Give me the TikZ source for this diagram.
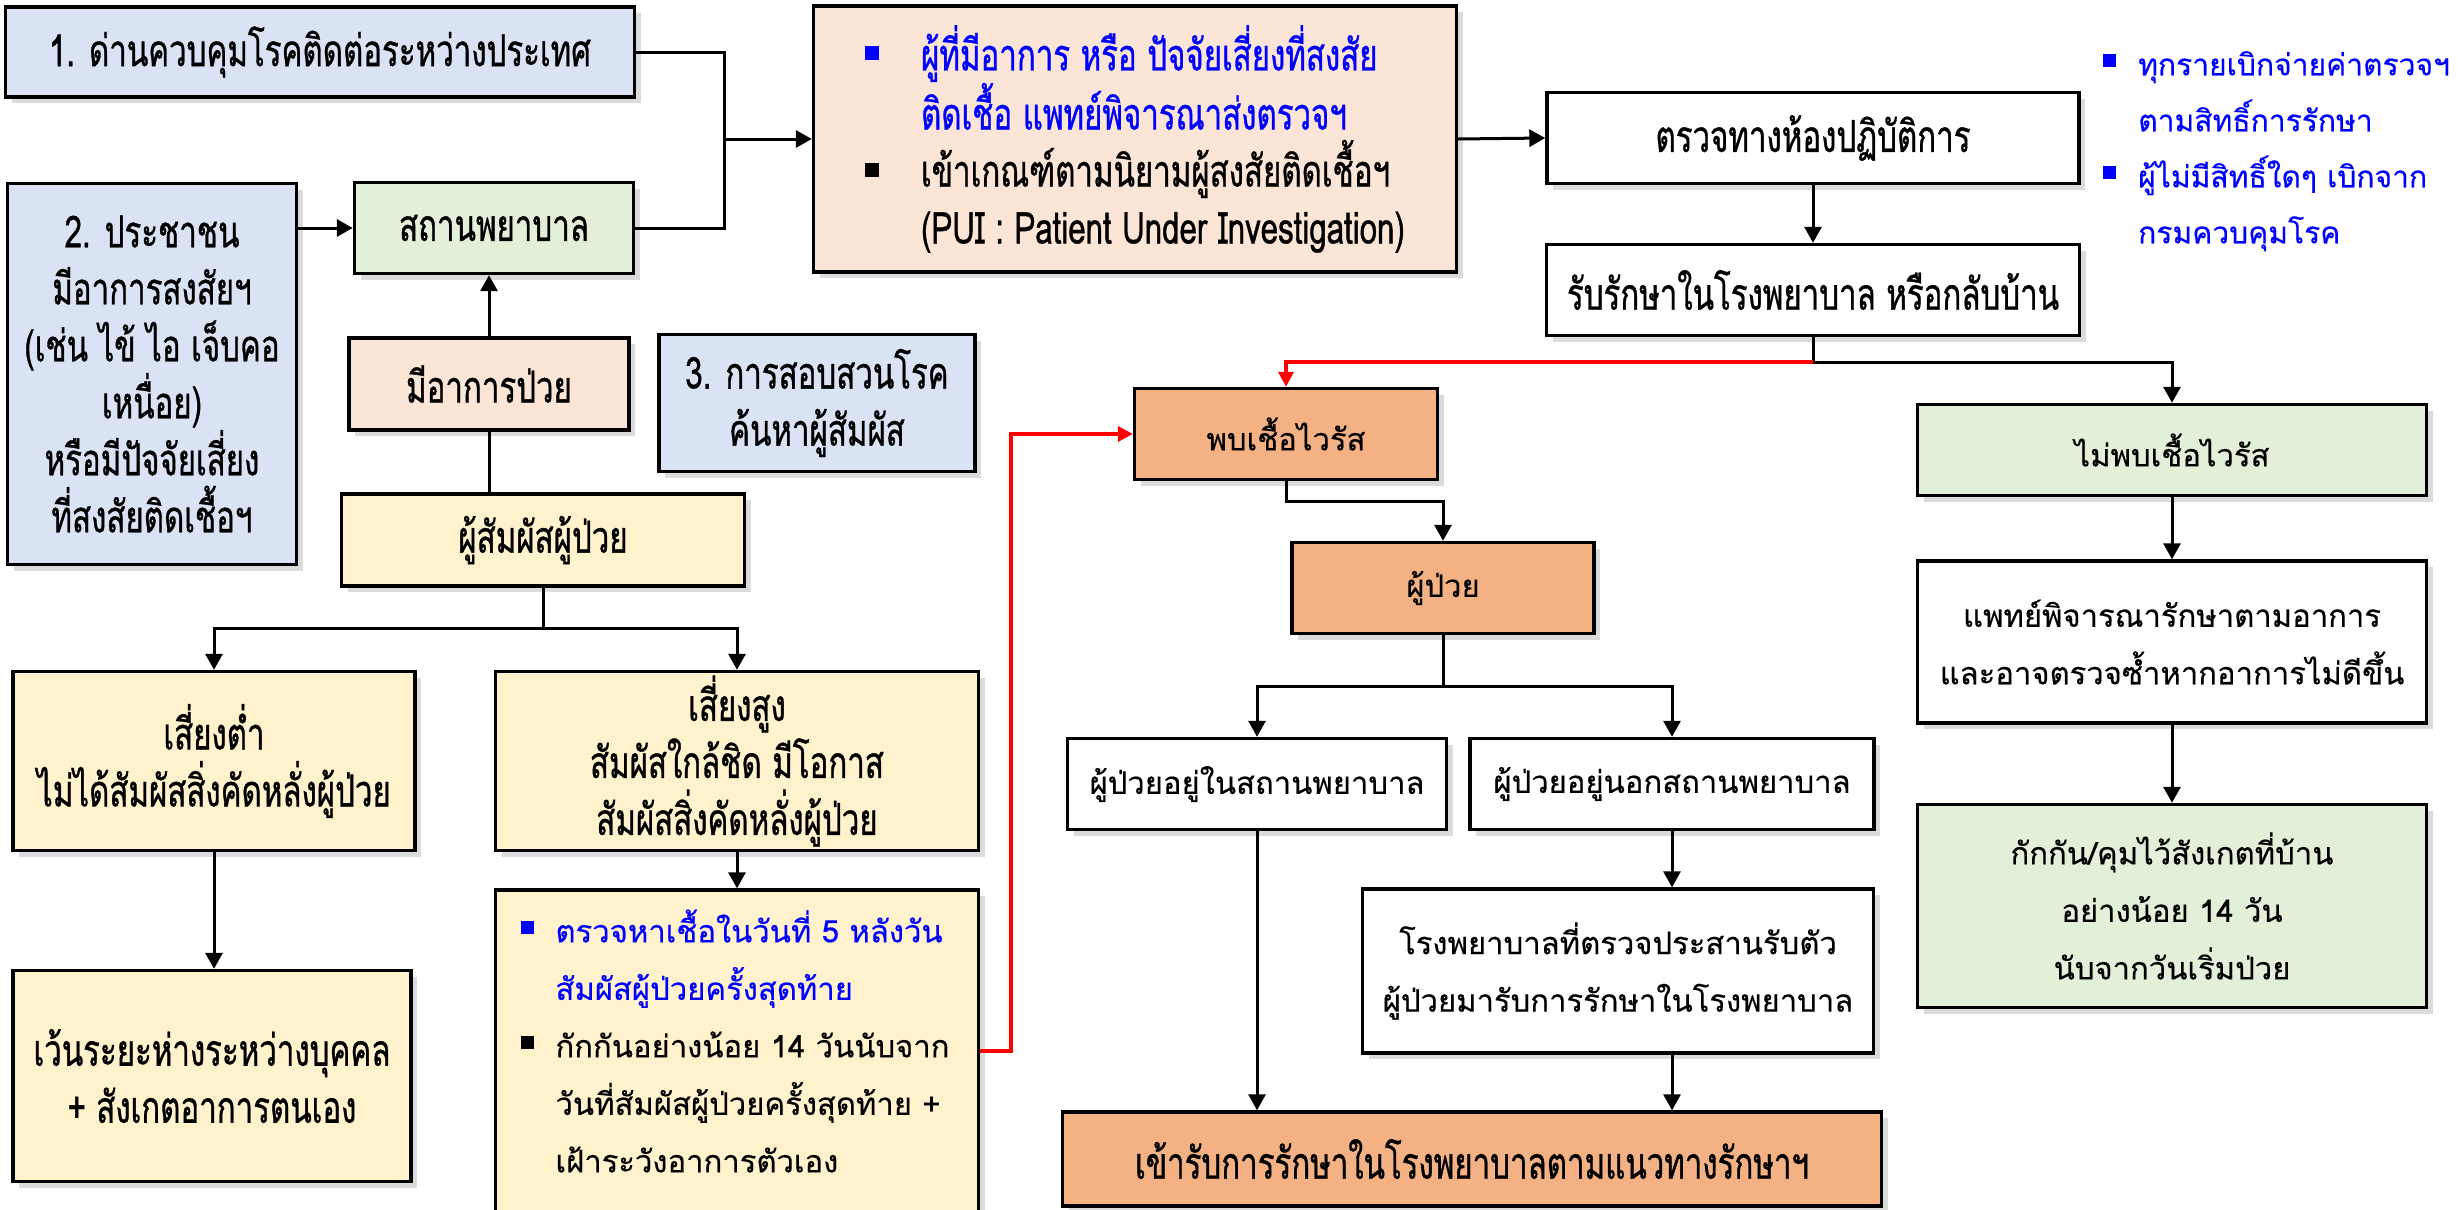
\documentclass[tikz,border=0pt]{standalone}
\usepackage{fontspec}
\newfontfamily\thw[Script=Thai,FakeBold=0.4]{Loma}
\newfontfamily\thn[Script=Thai,FakeStretch=0.71,FakeBold=0.8]{Loma}
\usetikzlibrary{arrows.meta,shadows,calc}
\definecolor{cblue}{HTML}{DAE3F3}
\definecolor{cgreen}{HTML}{E2F0D9}
\definecolor{cpeach}{HTML}{FBE5D6}
\definecolor{cyellow}{HTML}{FFF2CC}
\definecolor{corange}{HTML}{F4B183}
\definecolor{tblue}{HTML}{0000FF}
\definecolor{cred}{HTML}{FF0000}
% bullets: wide gap (56) and narrow gap (35)
\newcommand{\bwb}{\makebox[56pt][l]{\textcolor{tblue}{\rule[10pt]{14pt}{14pt}}}}
\newcommand{\bwk}{\makebox[56pt][l]{\textcolor{black}{\rule[10pt]{14pt}{14pt}}}}
\newcommand{\bwsp}{\hspace*{56pt}}
\newcommand{\bnb}{\makebox[35pt][l]{\textcolor{tblue}{\rule[8pt]{13pt}{13pt}}}}
\newcommand{\bnk}{\makebox[35pt][l]{\textcolor{black}{\rule[8pt]{13pt}{13pt}}}}
\newcommand{\bnsp}{\hspace*{35pt}}
\begin{document}
\begin{tikzpicture}[x=1pt,y=-1pt,
  box/.style={draw=black, line width=3.4pt, align=center, inner sep=0pt,
    drop shadow={shadow xshift=6pt,shadow yshift=-6pt,opacity=0.28}},
  nar/.style={font={\thn\fontsize{44}{57}\selectfont}},
  wid/.style={font={\thw\fontsize{31}{57.5}\selectfont}},
  conn/.style={line width=3pt, draw=black},
  arr/.style={conn, -{Triangle[length=16pt,width=17pt]}},
  redarr/.style={line width=4.5pt, draw=cred, -{Triangle[length=15pt,width=15pt]}}]
\fill[white] (0,0) rectangle (2458,1210);
\useasboundingbox (0,0) rectangle (2458,1210);

% left column
\node[box, nar, fill=cblue, minimum width=629pt, minimum height=90pt] (b1) at (320,52) {1. ด่านควบคุมโรคติดต่อระหว่างประเทศ};
\node[box, nar, fill=cblue, minimum width=289pt, minimum height=381pt] (b2) at (152,374) {2. ประชาชน\\มีอาการสงสัยฯ\\(เช่น ไข้ ไอ เจ็บคอ\\เหนื่อย)\\หรือมีปัจจัยเสี่ยง\\ที่สงสัยติดเชื้อฯ};
\node[box, nar, fill=cgreen, minimum width=279pt, minimum height=91pt] (hosp) at (494,228) {สถานพยาบาล};
\node[box, nar, fill=cpeach, minimum width=280pt, minimum height=92pt] (sick) at (489,384) {มีอาการป่วย};
\node[box, nar, fill=cblue, minimum width=316pt, minimum height=137pt] (inv) at (817,403) {3. การสอบสวนโรค\\ค้นหาผู้สัมผัส};
\node[box, nar, fill=cyellow, minimum width=403pt, minimum height=92pt] (contact) at (543,540) {ผู้สัมผัสผู้ป่วย};
\node[box, nar, fill=cyellow, minimum width=402pt, minimum height=179pt] (low) at (214,761) {เสี่ยงต่ำ\\ไม่ได้สัมผัสสิ่งคัดหลั่งผู้ป่วย};
\node[box, nar, fill=cyellow, minimum width=483pt, minimum height=179pt] (high) at (737,761) {เสี่ยงสูง\\สัมผัสใกล้ชิด มีโอกาส\\สัมผัสสิ่งคัดหลั่งผู้ป่วย};
\node[box, nar, fill=cyellow, minimum width=398pt, minimum height=211pt] (dist) at (212,1076) {เว้นระยะห่างระหว่างบุคคล\\+ สังเกตอาการตนเอง};
\node[box, fill=cyellow, minimum width=483pt, minimum height=330pt] (test) at (737,1055) {};
\node[wid, align=left, inner sep=0pt] (testtxt) at (735,1041) {\bnb\textcolor{tblue}{ตรวจหาเชื้อในวันที่ 5 หลังวัน}\\\bnsp\textcolor{tblue}{สัมผัสผู้ป่วยครั้งสุดท้าย}\\\bnk กักกันอย่างน้อย 14 วันนับจาก\\\bnsp วันที่สัมผัสผู้ป่วยครั้งสุดท้าย +\\\bnsp เฝ้าระวังอาการตัวเอง};

% middle top
\node[box, nar, fill=cpeach, minimum width=643pt, minimum height=266pt, align=left] (pui) at (1135,139) {\bwb\textcolor{tblue}{ผู้ที่มีอาการ หรือ ปัจจัยเสี่ยงที่สงสัย}\\\bwsp\textcolor{tblue}{ติดเชื้อ แพทย์พิจารณาส่งตรวจฯ}\\\bwk เข้าเกณฑ์ตามนิยามผู้สงสัยติดเชื้อฯ\\\bwsp (PUI : Patient Under Investigation)};
\node[box, nar, fill=white, minimum width=532pt, minimum height=91pt] (lab) at (1813,138) {ตรวจทางห้องปฏิบัติการ};
\node[box, nar, fill=white, minimum width=533pt, minimum height=91pt] (admit) at (1813,290) {รับรักษาในโรงพยาบาล หรือกลับบ้าน};
\node[font={\thw\fontsize{30}{56}\selectfont}, text=tblue, align=left, anchor=north west, inner sep=0pt] (note) at (2103,51) {\bnb ทุกรายเบิกจ่ายค่าตรวจฯ\\\bnsp ตามสิทธิ์การรักษา\\\bnb ผู้ไม่มีสิทธิ์ใดๆ เบิกจาก\\\bnsp กรมควบคุมโรค};

% positive branch
\node[box, wid, fill=corange, minimum width=303pt, minimum height=91pt] (pos) at (1286,434) {พบเชื้อไวรัส};
\node[box, wid, fill=corange, minimum width=302pt, minimum height=91pt] (patient) at (1443,588) {ผู้ป่วย};
\node[box, wid, fill=white, minimum width=379pt, minimum height=91pt] (inhosp) at (1257,784) {ผู้ป่วยอยู่ในสถานพยาบาล};
\node[box, wid, fill=white, minimum width=404pt, minimum height=91pt] (outhosp) at (1672,784) {ผู้ป่วยอยู่นอกสถานพยาบาล};
\node[box, wid, fill=white, minimum width=511pt, minimum height=164pt] (coord) at (1618,971) {โรงพยาบาลที่ตรวจประสานรับตัว\\ผู้ป่วยมารับการรักษาในโรงพยาบาล};
\node[box, nar, fill=corange, minimum width=819pt, minimum height=94pt] (treat) at (1472,1159) {เข้ารับการรักษาในโรงพยาบาลตามแนวทางรักษาฯ};

% negative branch
\node[box, wid, fill=cgreen, minimum width=509pt, minimum height=91pt] (neg) at (2172,450) {ไม่พบเชื้อไวรัส};
\node[box, wid, fill=white, minimum width=509pt, minimum height=162pt] (doc) at (2172,642) {แพทย์พิจารณารักษาตามอาการ\\และอาจตรวจซ้ำหากอาการไม่ดีขึ้น};
\node[box, wid, fill=cgreen, minimum width=509pt, minimum height=203pt] (quar) at (2172,906) {กักกัน/คุมไว้สังเกตที่บ้าน\\อย่างน้อย 14 วัน\\นับจากวันเริ่มป่วย};

% connectors
\coordinate (j1) at (724,139);
\draw[conn] (b1.east) -| (j1);
\draw[conn] (hosp.east) -| (j1);
\draw[arr] (j1) -- (pui.west);
\draw[arr] (b2.east |- hosp.west) -- (hosp.west);
\draw[arr] (sick.north) -- (sick.north |- hosp.south);
\draw[conn] (contact.north -| sick.south) -- (sick.south);
\coordinate (j2) at (543,628);
\draw[conn] (contact.south) -- (j2);
\draw[arr] (j2) -| (low.north);
\draw[arr] (j2) -| (high.north);
\draw[arr] (low.south) -- (low.south |- dist.north);
\draw[arr] (high.south) -- (test.north);
\coordinate (r1) at (1011,1051);
\draw[redarr] (test.east |- r1) -- (r1) |- (pos.west);
\draw[arr] (pui.east) -- (lab.west);
\draw[arr] (lab.south) -- (admit.north);
\coordinate (j3) at (1813,362);
\draw[conn] (admit.south) -- (j3);
\draw[redarr] (j3) -| (pos.north);
\draw[arr] (j3) -| (neg.north);
\coordinate (j4) at (1286,501);
\draw[arr] (pos.south) -- (j4) -| (patient.north);
\coordinate (j5) at (1443,686);
\draw[conn] (patient.south) -- (j5);
\draw[arr] (j5) -| (inhosp.north);
\draw[arr] (j5) -| (outhosp.north);
\draw[arr] (inhosp.south) -- (inhosp.south |- treat.north);
\draw[arr] (outhosp.south) -- (outhosp.south |- coord.north);
\draw[arr] (outhosp.south |- coord.south) -- (outhosp.south |- treat.north);
\draw[arr] (neg.south) -- (doc.north);
\draw[arr] (doc.south) -- (quar.north);
\end{tikzpicture}
\end{document}
